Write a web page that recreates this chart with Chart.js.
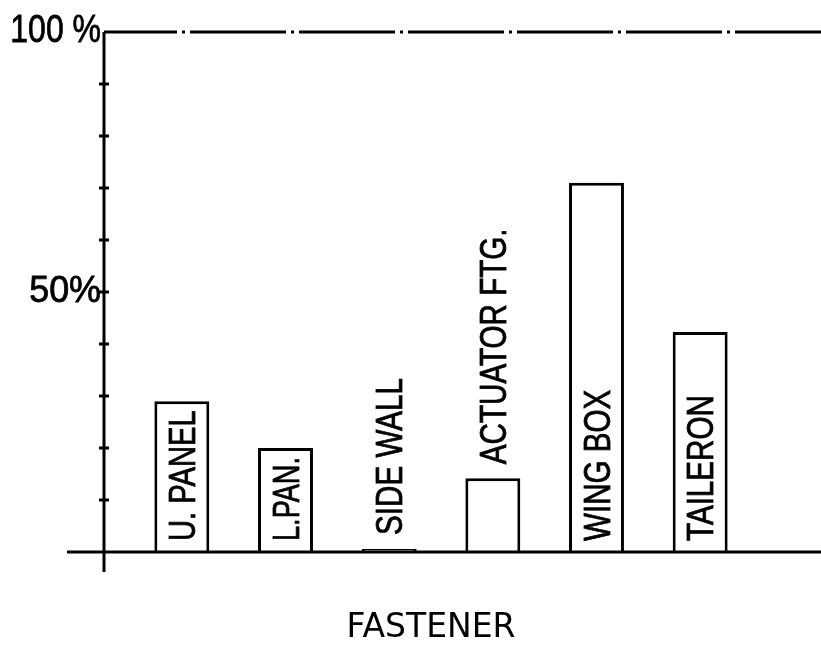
<!DOCTYPE html>
<html>
<head>
<meta charset="utf-8">
<script src="https://cdn.jsdelivr.net/npm/chart.js@4.4.1/dist/chart.umd.min.js"></script>
<style>
  html, body { margin: 0; padding: 0; background: #fff; }
  #wrap { width: 821px; height: 645px; position: relative; }
</style>
</head>
<body>
<div id="wrap"><canvas id="barChart"></canvas></div>
<script>
// --- datos ---
const categories = ['U. PANEL', 'L.PAN.', 'SIDE WALL', 'ACTUATOR FTG.', 'WING BOX', 'TAILERON'];
const shares = [29, 20, 0.6, 14.2, 71, 42.3];
const yTicks = [0, 10, 20, 30, 40, 50, 60, 70, 80, 90, 100];
const yTickLabels = { 100: '100 %', 50: '50%' };
const xTitle = 'FASTENER';

const SANS = '"Liberation Sans", Arial, sans-serif';
const ESTRECHO = 0.8;   // letra estrecha: se comprime en horizontal

// texto comprimido en el sentido de la escritura (con trazo fino para engrosar)
function textoEstrecho(ctx, txt, x, y, align, factor) {
    ctx.save();
    ctx.translate(x, y);
    ctx.scale(factor, 1);
    ctx.textAlign = align;
    ctx.lineWidth = 0.8;
    ctx.fillText(txt, 0, 0);
    ctx.strokeText(txt, 0, 0);
    ctx.restore();
}

// ejes, marcas y rótulos dibujados sobre las barras
const plotteo = {
    id: 'plotteo',
    afterDatasetsDraw(chart) {
        const { ctx, scales: { y } } = chart;
        const axisX = 104;
        const baseY = y.getPixelForValue(0);
        const topY = y.getPixelForValue(100);

        ctx.save();
        ctx.strokeStyle = '#000';
        ctx.fillStyle = '#000';
        ctx.lineWidth = 3;

        // línea base
        ctx.beginPath();
        ctx.moveTo(67, baseY);
        ctx.lineTo(chart.width, baseY);
        ctx.stroke();

        // eje vertical
        ctx.beginPath();
        ctx.moveTo(axisX, topY);
        ctx.lineTo(axisX, baseY + 20);
        ctx.stroke();

        // línea de 100 % en trazo y punto
        ctx.setLineDash([96, 5, 3, 5]);
        ctx.lineDashOffset = 23;
        ctx.beginPath();
        ctx.moveTo(axisX, topY);
        ctx.lineTo(chart.width, topY);
        ctx.stroke();
        ctx.setLineDash([]);

        // marcas cada 10 %
        yTicks.forEach(v => {
            if (v === 0 || v === 100) return;
            const py = y.getPixelForValue(v);
            ctx.beginPath();
            ctx.moveTo(axisX - 5, py);
            ctx.lineTo(axisX + 5, py);
            ctx.stroke();
        });

        // rótulos del eje
        ctx.textBaseline = 'alphabetic';
        Object.keys(yTickLabels).forEach(k => {
            const v = Number(k);
            ctx.font = (v === 100 ? '39px ' : '37px ') + SANS;
            textoEstrecho(ctx, yTickLabels[k], axisX - 3, y.getPixelForValue(v) + 10,
                'right', v === 100 ? 0.82 : 0.97);
        });

        // nombres verticales de cada barra: dentro si caben (apretando un poco), si no encima
        const size = 37;
        ctx.font = size + 'px ' + SANS;
        const capH = size * 0.72;
        chart.getDatasetMeta(0).data.forEach((bar, i) => {
            const txt = categories[i];
            const raw = ctx.measureText(txt).width;
            const h = bar.base - bar.y;
            const fit = Math.min(ESTRECHO, (h - 20) / raw);
            const dentro = fit > 0.6;
            const start = dentro ? bar.base - 11 : bar.y - 14;
            ctx.save();
            ctx.translate(bar.x + capH / 2, start);
            ctx.rotate(-Math.PI / 2);
            textoEstrecho(ctx, txt, 0, 0, 'left', dentro ? fit : ESTRECHO);
            ctx.restore();
        });

        // título del eje x
        ctx.font = '33px "DejaVu Sans", sans-serif';
        ctx.textAlign = 'center';
        ctx.fillText(xTitle, 431, 637);

        ctx.restore();
    }
};

new Chart(document.getElementById('barChart'), {
    type: 'bar',
    data: {
        labels: categories,
        datasets: [{
            data: shares,
            backgroundColor: '#fff',
            borderColor: '#000',
            borderWidth: 3,
            borderSkipped: 'bottom',
            barPercentage: 0.53,
            categoryPercentage: 1.0
        }]
    },
    options: {
        responsive: true,
        maintainAspectRatio: false,
        animation: false,
        layout: { padding: { left: 130, right: 69, top: 32, bottom: 93 } },
        scales: {
            x: { display: false },
            y: { display: false, min: 0, max: 100 }
        },
        plugins: { legend: { display: false }, tooltip: { enabled: false } }
    },
    plugins: [plotteo]
});
</script>
</body>
</html>
